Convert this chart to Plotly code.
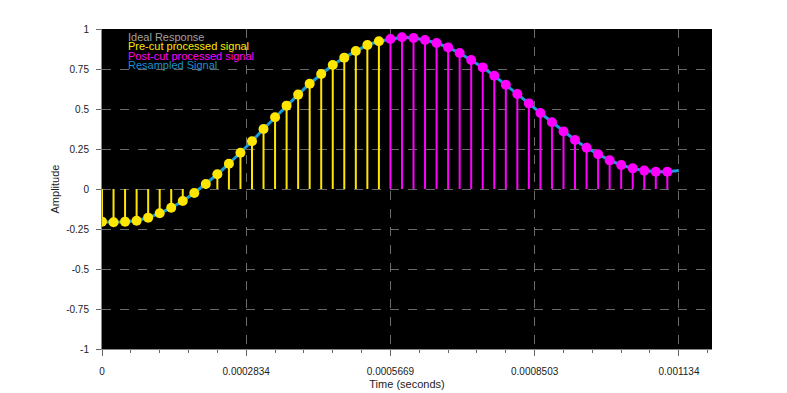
import plotly.graph_objects as go

FS = 44100.0
DT = 1.0 / FS

pre_idx = list(range(0, 25))
pre_vals = [-0.204, -0.208, -0.204, -0.198, -0.179, -0.152, -0.117, -0.075, -0.025,
            0.031, 0.092, 0.158, 0.227, 0.298, 0.375, 0.448, 0.521, 0.590, 0.658,
            0.719, 0.775, 0.821, 0.863, 0.900, 0.923]
post_idx = list(range(25, 50))
post_vals = [0.9375, 0.948, 0.944, 0.931, 0.9125, 0.885, 0.850, 0.806, 0.760, 0.708,
             0.652, 0.594, 0.535, 0.475, 0.417, 0.360, 0.306, 0.258, 0.217, 0.179,
             0.150, 0.129, 0.115, 0.108, 0.108]
resamp_idx = list(range(0, 51))
resamp_vals = pre_vals + post_vals + [0.115]

x_tickvals = [0, 0.0002834, 0.0005669, 0.0008503, 0.001134]
x_ticktext = ["0", "0.0002834", "0.0005669", "0.0008503", "0.001134"]
y_tickvals = [-1, -0.75, -0.5, -0.25, 0, 0.25, 0.5, 0.75, 1]
y_ticktext = ["-1", "-0.75", "-0.5", "-0.25", "0", "0.25", "0.5", "0.75", "1"]

legend_names = ["Ideal Response", "Pre-cut processed signal", "Post-cut processed signal", "Resampled Signal"]
legend_colors = ["#a0a0a0", "#ffe600", "#ff00ff", "#1a8fd0"]

YELLOW = "#ffe600"
MAGENTA = "#ff00ff"
BLUE = "#1a9ad6"


def stems(idx, vals):
    xs, ys = [], []
    for i, v in zip(idx, vals):
        t = i * DT
        xs += [t, t, None]
        ys += [0, v, None]
    return xs, ys


fig = go.Figure()

fig.add_trace(go.Scatter(x=[i * DT for i in resamp_idx], y=resamp_vals, mode="lines",
                         line=dict(color=BLUE, width=3), showlegend=False, hoverinfo="skip"))

sx, sy = stems(pre_idx, pre_vals)
fig.add_trace(go.Scatter(x=sx, y=sy, mode="lines", line=dict(color=YELLOW, width=2),
                         showlegend=False, hoverinfo="skip"))
sx, sy = stems(post_idx, post_vals)
fig.add_trace(go.Scatter(x=sx, y=sy, mode="lines", line=dict(color=MAGENTA, width=2),
                         showlegend=False, hoverinfo="skip"))

fig.add_trace(go.Scatter(x=[i * DT for i in pre_idx], y=pre_vals, mode="markers",
                         marker=dict(color=YELLOW, size=10, line=dict(width=0)), showlegend=False))
fig.add_trace(go.Scatter(x=[i * DT for i in post_idx], y=post_vals, mode="markers",
                         marker=dict(color=MAGENTA, size=10, line=dict(width=0)), showlegend=False))

for k, (name, col) in enumerate(zip(legend_names, legend_colors)):
    fig.add_annotation(x=0.041, y=0.975 - k * 0.0292, xref="paper", yref="paper",
                       text=name, showarrow=False, xanchor="left", yanchor="middle",
                       borderpad=0,
                       font=dict(family="Liberation Sans, Arial", size=11, color=col))

fig.update_layout(
    width=787, height=393,
    margin=dict(l=94, r=83, t=21, b=50),
    paper_bgcolor="white", plot_bgcolor="black",
    font=dict(family="Liberation Sans, Arial", size=10, color="#222"),
    showlegend=False,
)
fig.update_xaxes(range=[0, 0.0011989], tickvals=x_tickvals, ticktext=x_ticktext,
                 showgrid=True, gridcolor="#6a6a6a", griddash="dash", gridwidth=1,
                 ticks="outside", ticklen=6, tickcolor="#666", zeroline=False,
                 showline=True, linecolor="#888", linewidth=1,
                 minor=dict(dtick=0.0002834 / 5, ticks="outside", ticklen=3, tickcolor="#666", showgrid=False),
                 ticklabelstandoff=7,
                 title=dict(text="Time (seconds)", font=dict(size=11), standoff=4),
                 tickfont=dict(size=10))
fig.update_yaxes(range=[-1, 1], tickvals=y_tickvals, ticktext=y_ticktext,
                 showgrid=True, gridcolor="#6a6a6a", griddash="dash", gridwidth=1,
                 ticks="outside", ticklen=5, tickcolor="#666", zeroline=False,
                 showline=True, linecolor="#888", linewidth=1,
                 ticklabelstandoff=5,
                 title=dict(text="Amplitude", font=dict(size=11), standoff=4),
                 tickfont=dict(size=10))

fig.write_html("out.html")
